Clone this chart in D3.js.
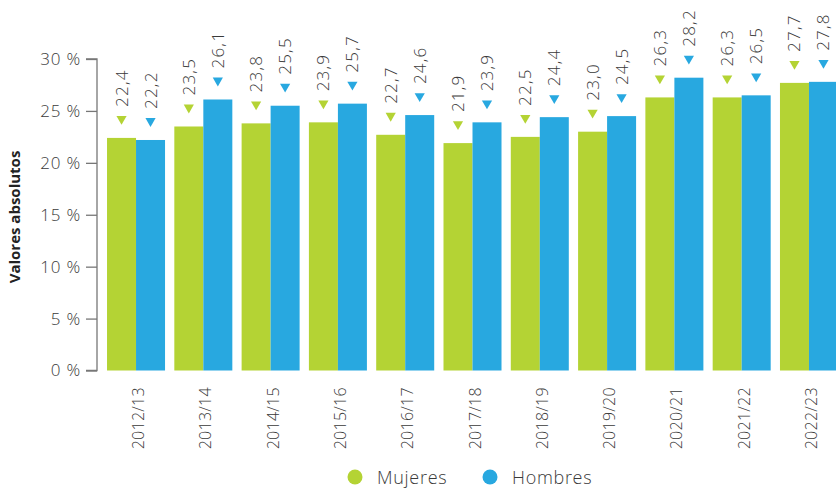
<!DOCTYPE html>
<html>
<head>
<meta charset="utf-8">
<script src="https://cdn.jsdelivr.net/npm/d3@7"></script>
<style>
  html, body { margin: 0; padding: 0; background: #fff; }
  svg { display: block; }
  text { font-family: "Open Sans", "Lato", sans-serif; }
</style>
</head>
<body>
<svg id="chart" width="836" height="489"></svg>
<script>
const categories = ["2012/13","2013/14","2014/15","2015/16","2016/17","2017/18","2018/19","2019/20","2020/21","2021/22","2022/23"];
const seriesNames = ["Mujeres", "Hombres"];
const mujeres = [22.4, 23.5, 23.8, 23.9, 22.7, 21.9, 22.5, 23.0, 26.3, 26.3, 27.7];
const hombres = [22.2, 26.1, 25.5, 25.7, 24.6, 23.9, 24.4, 24.5, 28.2, 26.5, 27.8];
const yTicks = [0, 5, 10, 15, 20, 25, 30];
const yTitle = "Valores absolutos";
const colors = { Mujeres: "#b4d334", Hombres: "#28a8e0" };

const svg = d3.select("#chart");
const x = d3.scaleBand().domain(categories).range([97, 848]).paddingInner(0.138).paddingOuter(0.149);
const xs = d3.scaleBand().domain(seriesNames).range([0, x.bandwidth()]);
const y = d3.scaleLinear().domain([0, 30]).range([370.5, 59]);

const data = categories.map((c, i) => ({ cat: c, Mujeres: mujeres[i], Hombres: hombres[i] }));

// Bars
const g = svg.append("g");
const groups = g.selectAll("g.grp").data(data).join("g").attr("class", "grp")
  .attr("transform", d => `translate(${x(d.cat)},0)`);

groups.selectAll("rect").data(d => seriesNames.map(s => ({ s, v: d[s] }))).join("rect")
  .attr("x", d => xs(d.s))
  .attr("width", xs.bandwidth())
  .attr("y", d => y(d.v))
  .attr("height", d => y(0) - y(d.v))
  .attr("fill", d => colors[d.s]);

// Triangle markers
const tri = d3.symbol().type(d3.symbolTriangle).size(45);
groups.selectAll("path.tri").data(d => seriesNames.map(s => ({ s, v: d[s] }))).join("path")
  .attr("class", "tri")
  .attr("d", tri)
  .attr("transform", d => `translate(${xs(d.s) + xs.bandwidth() / 2},${y(d.v) - 19}) rotate(180)`)
  .attr("fill", d => colors[d.s]);

// Value labels
groups.selectAll("text.val").data(d => seriesNames.map(s => ({ s, v: d[s] }))).join("text")
  .attr("class", "val")
  .attr("transform", d => `translate(${xs(d.s) + xs.bandwidth() / 2 + 6},${y(d.v) - 31}) rotate(-90)`)
  .attr("text-anchor", "start")
  .attr("font-size", 17)
  .attr("font-weight", 300)
  .attr("letter-spacing", 1.2)
  .attr("fill", "#3a3a3a")
  .text(d => d3.format(".1f")(d.v).replace(".", ","));

// Y axis
const yAxis = d3.axisLeft(y).tickValues(yTicks).tickSize(11).tickPadding(5)
  .tickFormat(d => d + " %");
const ya = svg.append("g").attr("transform", "translate(97,0)").call(yAxis);
ya.select(".domain").attr("stroke", "#777").attr("stroke-width", 1.3).attr("d", `M-11,${y(30)}H0V${y(0)}H-11`);
ya.selectAll(".tick line").attr("stroke", "#777").attr("stroke-width", 1.3);
ya.selectAll(".tick text").attr("font-size", 17).attr("font-weight", 300).attr("fill", "#3a3a3a")
  .attr("letter-spacing", 0.8)
  .style("font-family", '"Open Sans", "Lato", sans-serif');

// X labels
svg.append("g").selectAll("text").data(categories).join("text")
  .attr("transform", d => `translate(${x(d) + x.bandwidth() / 2 + 8},387) rotate(-90)`)
  .attr("text-anchor", "end")
  .attr("font-size", 16)
  .attr("font-weight", 300)
  .attr("letter-spacing", 0.3)
  .attr("fill", "#3a3a3a")
  .text(d => d);

// Y title
svg.append("text")
  .attr("transform", "translate(20,217) rotate(-90)")
  .attr("text-anchor", "middle")
  .attr("font-size", 15)
  .attr("font-weight", 700)
  .attr("fill", "#222")
  .text(yTitle);

// Legend
const legendX = { Mujeres: 355, Hombres: 490 };
const lg = svg.append("g").selectAll("g").data(seriesNames).join("g")
  .attr("transform", d => `translate(${legendX[d]},477)`);
lg.append("circle").attr("r", 7.5).attr("fill", d => colors[d]);
lg.append("text").attr("x", 22).attr("y", 6.5).attr("font-size", 18).attr("font-weight", 300)
  .attr("letter-spacing", 0.7)
  .attr("fill", "#3a3a3a").text(d => d);
</script>
</body>
</html>
